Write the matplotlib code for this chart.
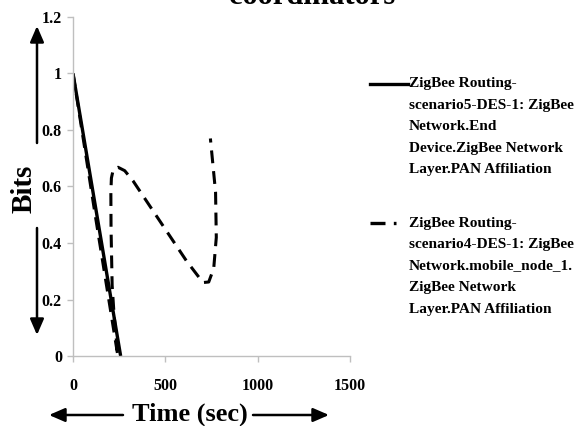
import matplotlib
matplotlib.use("Agg")
import matplotlib.pyplot as plt
from matplotlib.lines import Line2D
from matplotlib.patches import FancyArrowPatch

plt.rcParams['font.family'] = ['Liberation Serif', 'DejaVu Serif']
plt.rcParams['font.weight'] = 'bold'

# datos
solid_x = [0, 258]
solid_y = [1.0, 0.0]

dash_x = [0, 120, 243, 222, 212, 206, 205, 208, 218, 244, 280, 325, 470, 614, 704, 735, 762, 776, 772, 744]
dash_y = [1.0, 0.5, 0.0, 0.15, 0.25, 0.45, 0.58, 0.63, 0.66, 0.668, 0.656, 0.62, 0.478, 0.337, 0.26, 0.262, 0.31, 0.42, 0.58, 0.77]

xticks = [0, 500, 1000, 1500]
yticks = [0, 0.2, 0.4, 0.6, 0.8, 1.0, 1.2]
ytick_labels = ['0', '0.2', '0.4', '0.6', '0.8', '1', '1.2']

label1 = ["ZigBee Routing-", "scenario5-DES-1: ZigBee", "Network.End",
          "Device.ZigBee Network", "Layer.PAN Affiliation"]
label2 = ["ZigBee Routing-", "scenario4-DES-1: ZigBee", "Network.mobile_node_1.",
          "ZigBee Network", "Layer.PAN Affiliation"]

W, H = 579, 426
fig = plt.figure(figsize=(W / 100, H / 100), dpi=100)
ax = fig.add_axes([73 / W, 1 - 356 / H, 277 / W, 339 / H])

ax.plot(solid_x, solid_y, color='black', lw=2.4, solid_capstyle='butt')
ax.plot(dash_x, dash_y, color='black', lw=2.2, linestyle=(0, (4.2, 2.6)))

ax.set_xlim(0, 1500)
ax.set_ylim(0, 1.2)
ax.set_xticks(xticks)
ax.set_yticks(yticks)
ax.set_yticklabels(ytick_labels)
for s in ['top', 'right']:
    ax.spines[s].set_visible(False)
for s in ['left', 'bottom']:
    ax.spines[s].set_color('#bfbfbf')
    ax.spines[s].set_linewidth(1.0)
ax.tick_params(axis='both', colors='#bfbfbf', labelcolor='black', length=4, width=1, labelsize=11.5)
ax.tick_params(axis='x', pad=12)
ax.tick_params(axis='y', pad=4)
for lab in ax.get_xticklabels() + ax.get_yticklabels():
    lab.set_fontweight('bold')

def px(x, y):
    return (x / W, 1 - y / H)

# titulo cortado arriba (asi esta en la imagen original)
fig.text(*px(312, 4), "coordinators", ha='center', va='baseline', fontsize=22, fontweight='bold')

# etiquetas de ejes con flechas
fig.text(*px(24, 189), "Bits", rotation=90, ha='center', va='center', fontsize=21, fontweight='bold')
fig.text(*px(190, 414), "Time (sec)", ha='center', va='center', fontsize=19, fontweight='bold')

def arrow(p0, p1):
    a = FancyArrowPatch(px(*p0), px(*p1), transform=fig.transFigure,
                        arrowstyle='-|>,head_length=6,head_width=2.6', mutation_scale=1.6,
                        color='black', lw=1.8, shrinkA=0, shrinkB=0)
    fig.patches.append(a)

arrow((37, 143), (37, 26))
arrow((37, 228), (37, 335))
arrow((123, 415), (49, 415))
arrow((253, 415), (329, 415))

# leyenda manual
fig.add_artist(Line2D([370 / W, 408 / W], [1 - 84 / H] * 2, color='black', lw=2.4, transform=fig.transFigure))
fig.add_artist(Line2D([370 / W, 396 / W], [1 - 223 / H] * 2, color='black', lw=2.4,
                      linestyle=(0, (4.5, 2.5)), transform=fig.transFigure))
for i, t in enumerate(label1):
    fig.text(*px(409, 84 + i * 21.5), t, ha='left', va='center', fontsize=11.1, fontweight='bold')
for i, t in enumerate(label2):
    fig.text(*px(409, 223 + i * 21.5), t, ha='left', va='center', fontsize=11.1, fontweight='bold')

fig.savefig("out.png", dpi=100)
